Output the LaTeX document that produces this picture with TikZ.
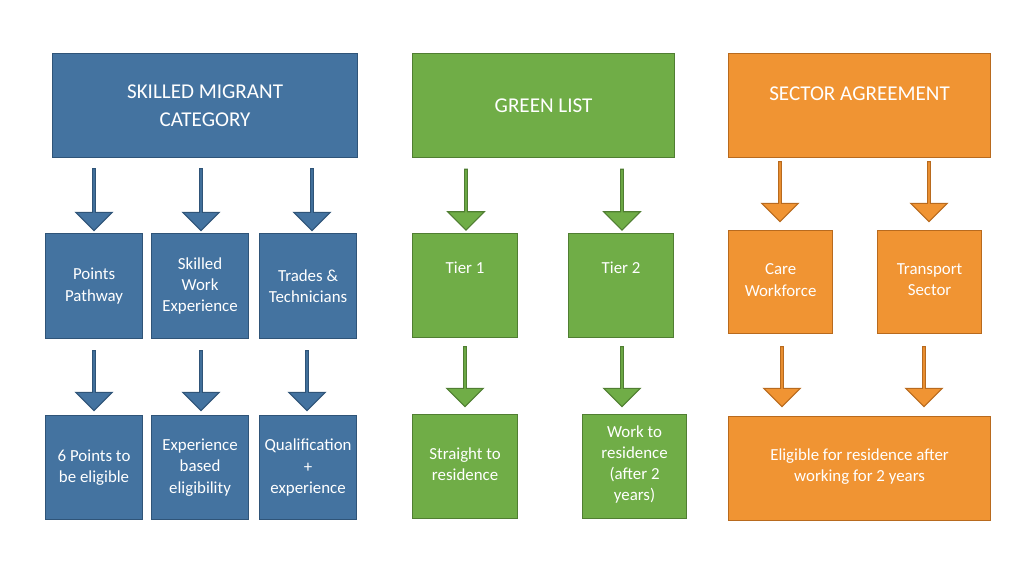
\documentclass[tikz,border=0pt]{standalone}
\usepackage{fontspec}
\setmainfont{Carlito}
\usetikzlibrary{shapes.arrows,calc}
\definecolor{bl}{HTML}{4473A0}\definecolor{blb}{HTML}{2F5478}
\definecolor{gr}{HTML}{70AD47}\definecolor{grb}{HTML}{507E32}
\definecolor{orr}{HTML}{F09433}\definecolor{orrb}{HTML}{B86A1E}
\newcommand\bxx[6]{\node[bx=#6,minimum width={(#4-#2)*0.025cm},minimum height={(#5-#3)*0.025cm},anchor=north west] (#1) at (#2,#3) {};}
\begin{document}
\begin{tikzpicture}[x=0.025cm,y=-0.025cm,
 bx/.style={draw=#1b,fill=#1,line width=0.8pt,text=white,align=center,font=\fontsize{12}{15}\selectfont,inner sep=0pt},
 tx/.style={text=white,align=center,font=\fontsize{12}{15}\selectfont,inner sep=0pt},
 ar/.style 2 args={single arrow,draw=#1b,fill=#1,line width=0.8pt,shape border rotate=270,minimum width=26pt,single arrow head extend=5pt,single arrow head indent=0pt,inner sep=0pt,minimum height=#2},
 tl/.style={text=white,align=center,font=\fontsize{15}{20}\selectfont}]
\useasboundingbox (0,0) rectangle (1024,570);
% blue
\bxx{sm}{52}{53}{357}{157}{bl}\node[tl] at (sm) {SKILLED MIGRANT\\CATEGORY};
\bxx{a1}{45}{233}{142}{338}{bl}\node[tx] at (a1) {Points\\Pathway};
\bxx{a2}{151}{233}{248}{338}{bl}\node[tx] at (a2) {Skilled\\Work\\Experience};
\bxx{a3}{259}{233}{356}{338}{bl}\node[tx] at (a3) {Trades \&\\Technicians};
\bxx{b1}{45}{415}{142}{519}{bl}\node[tx] at (b1) {6 Points to\\be eligible};
\bxx{b2}{151}{415}{248}{519}{bl}\node[tx] at (b2) {Experience\\based\\eligibility};
\bxx{b3}{259}{415}{356}{519}{bl}\node[tx] at (b3) {Qualification\\+\\experience};
\foreach \x/\n in {94/p1,201/p2,312/p3}{\node[ar={bl}{1.55cm}] (\n) at (\x,199) {};}
\foreach \x/\n in {94/q1,201/q2,307/q3}{\node[ar={bl}{1.5cm}] (\n) at (\x,380) {};}
% green
\bxx{gl}{412}{53}{674}{157}{gr}\node[tl] at (gl) {GREEN LIST};
\bxx{c1}{412}{233}{517}{337}{gr}\node[tx] at ($(c1)+(0,-18)$) {Tier 1};
\bxx{c2}{568}{233}{673}{337}{gr}\node[tx] at ($(c2)+(0,-18)$) {Tier 2};
\bxx{d1}{412}{414}{517}{518}{gr}\node[tx] at ($(d1)+(0,-2)$) {Straight to\\residence};
\bxx{d2}{582}{414}{686}{518}{gr}\node[tx] at ($(d2)+(0,-2)$) {Work to\\residence\\(after 2\\years)};
\foreach \x/\n in {466/r1,622/r2}{\node[ar={gr}{1.52cm}] (\n) at (\x,199) {};}
\foreach \x/\n in {465/s1,622/s2}{\node[ar={gr}{1.5cm}] (\n) at (\x,376) {};}
% orange
\bxx{sa}{728}{53}{990}{157}{orr}\node[tl] at ($(sa)+(0,-12)$) {SECTOR AGREEMENT};
\bxx{e1}{728}{230}{832}{333}{orr}\node[tx] at ($(e1)+(0,-2)$) {Care\\Workforce};
\bxx{e2}{877}{230}{981}{333}{orr}\node[tx] at ($(e2)+(0,-2)$) {Transport\\Sector};
\bxx{f1}{728}{416}{990}{520}{orr}\node[tx] at ($(f1)+(0,-2)$) {Eligible for residence after\\working for 2 years};
\foreach \x/\n in {780/t1,929/t2}{\node[ar={orr}{1.5cm}] (\n) at (\x,191) {};}
\foreach \x/\n in {782/u1,924/u2}{\node[ar={orr}{1.5cm}] (\n) at (\x,376) {};}
\end{tikzpicture}
\end{document}
